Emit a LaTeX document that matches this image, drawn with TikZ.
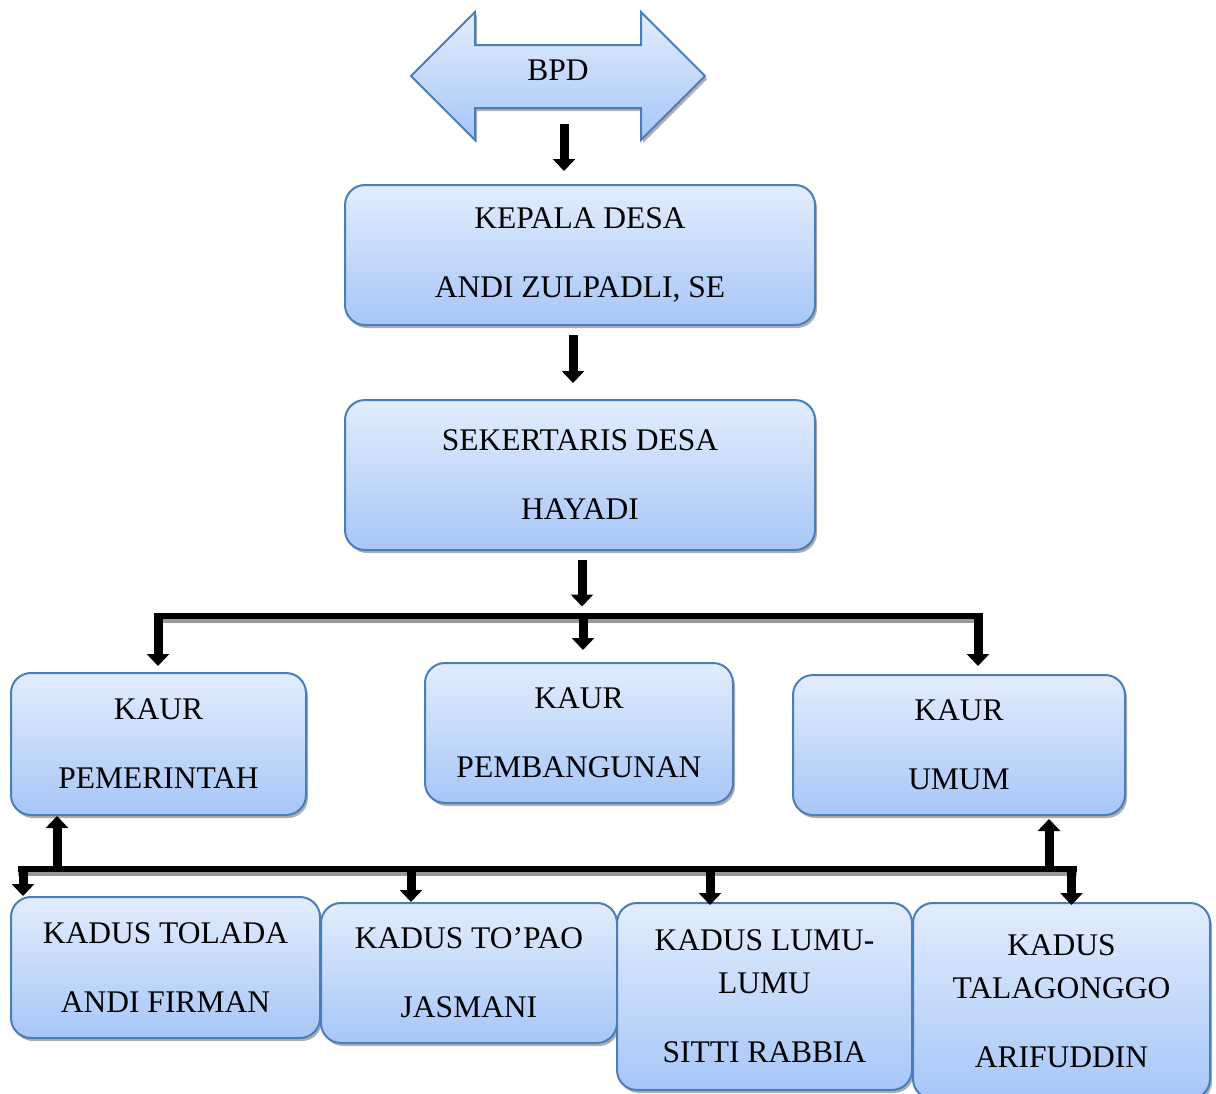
\documentclass[tikz,border=0pt]{standalone}
\usepackage{fontspec}
\setmainfont{Liberation Serif}
\usetikzlibrary{shadows,arrows.meta}
\definecolor{boxtop}{HTML}{E3EDFD}
\definecolor{boxbot}{HTML}{A7C6F8}
\definecolor{boxline}{HTML}{4A7EBB}
\begin{document}
\begin{tikzpicture}[x=1pt,y=-1pt,
  box/.style={rectangle, rounded corners=20pt, draw=boxline, line width=2pt,
    top color=boxtop, bottom color=boxbot,
    drop shadow={shadow xshift=2pt, shadow yshift=-3pt, fill=black!45, opacity=0.7},
    align=center, inner sep=0pt, font=\fontsize{31.5pt}{69pt}\selectfont},
  conn/.style={line width=9pt, -{Triangle[width=22pt,length=12pt]}},
  bar/.style={line width=6pt},
  barshadow/.style={line width=4pt, black!40}]
\useasboundingbox (0,0) rectangle (1216,1093);
\clip (0,0) rectangle (1216,1093);

% BPD double arrow
\path[draw=boxline, line width=2pt, top color=boxtop, bottom color=boxbot,
  drop shadow={shadow xshift=2pt, shadow yshift=-3pt, fill=black!45, opacity=0.7}]
  (411,76) -- (475,12) -- (475,45) -- (641,45) -- (641,12) -- (705,76)
  -- (641,140) -- (641,108) -- (475,108) -- (475,140) -- cycle;
\node[font=\fontsize{31.5pt}{38pt}\selectfont] (bpd) at (558,70) {BPD};

% boxes
\node[box, minimum width=470pt, minimum height=140pt] (kd) at (580,255) {KEPALA DESA\\ANDI ZULPADLI, SE};
\node[box, minimum width=470pt, minimum height=150pt] (sd) at (580,475) {SEKERTARIS DESA\\HAYADI};
\node[box, minimum width=295pt, minimum height=142pt] (kp) at (158.5,744) {KAUR\\PEMERINTAH};
\node[box, minimum width=308pt, minimum height=140pt] (kb) at (579,733) {KAUR\\PEMBANGUNAN};
\node[box, minimum width=332pt, minimum height=140pt] (ku) at (959,745) {KAUR\\UMUM};
\node[box, minimum width=309pt, minimum height=141pt] (k1) at (165.5,967.5) {KADUS TOLADA\\ANDI FIRMAN};
\node[box, minimum width=296pt, minimum height=140pt] (k2) at (469,973) {KADUS TO’PAO\\JASMANI};
\node[box, minimum width=295pt, minimum height=187pt] (k3) at (764.5,996.5) {KADUS LUMU-\\[-26pt]LUMU\\SITTI RABBIA};
\node[box, minimum width=297pt, minimum height=196pt] (k4) at (1061.5,1001) {KADUS\\[-26pt]TALAGONGGO\\ARIFUDDIN};

% coordinates
\coordinate (a1) at (564,124);
\coordinate (a2) at (573,335);
\coordinate (a3) at (582,560);
\coordinate (b1) at (153.5,616);
\coordinate (b2) at (982.5,616);
\coordinate (c1) at (18,869);
\coordinate (c2) at (1076.5,869);
\coordinate (u1) at (57,872);
\coordinate (u2) at (1049,872);
\coordinate (e1) at (23,866);
\coordinate (e2) at (411,866);
\coordinate (e3) at (710,866);
\coordinate (e4) at (1071.5,866);

% top arrows
\draw[conn, shorten >=13pt] (a1) -- (a1 |- kd.north);
\draw[conn, shorten >=16pt] (a2) -- (a2 |- sd.north);
\draw[conn, shorten >=9.5pt] (a3) -- (a3 |- b1);

% upper bar
\draw[barshadow] ([yshift=-5pt]b1) -- ([yshift=-5pt]b2);
\draw[bar] (b1) -- (b2);
\draw[conn, shorten >=7pt] (158,613) -- (158,673);
\draw[conn, shorten >=13pt] (583,613) -- (583,663);
\draw[conn, shorten >=9pt] (978,613) -- (978,675);

% lower bar
\draw[barshadow] ([yshift=-5pt]c1) -- ([yshift=-5pt]c2);
\draw[bar] (c1) -- (c2);
\draw[conn] (u1) -- (u1 |- kp.south);
\draw[conn, shorten >=3pt] (u2) -- (u2 |- ku.south);
\draw[conn] (e1) -- (e1 |- k1.north);
\draw[conn] (e2) -- (e2 |- k2.north);
\draw[conn] (e3) -- (710,905);
\draw[conn] (e4) -- (1071.5,905);
\end{tikzpicture}
\end{document}
